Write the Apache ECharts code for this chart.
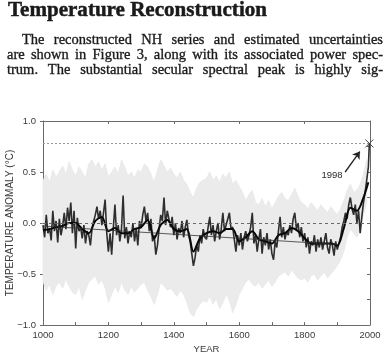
<!DOCTYPE html>
<html><head><meta charset="utf-8">
<script src="https://cdn.jsdelivr.net/npm/echarts@6/dist/echarts.min.js"></script>
<style>html,body{margin:0;padding:0;background:#fff}#c{width:386px;height:355px}</style>
</head><body><div id="c"></div>
<script>
// ---------- text ----------
const headingText = 'Temperature Reconstruction';
const paragraphLines = [
  'The reconstructed NH series and estimated uncertainties',
  'are shown in Figure 3, along with its associated power spec-',
  'trum.  The substantial secular spectral peak is highly sig-'
];
const yAxisTitle = 'TEMPERATURE ANOMALY (°C)';
const xAxisTitle = 'YEAR';
const annotationText = '1998';

// ---------- data ----------
const annualStart = 1000, annualStep = 5;
const annualValues = [
  -0.02,-0.14,0.08,-0.10,-0.05,-0.17,0.12,-0.08,0.02,-0.19,
  0.04,-0.12,-0.03,0.10,-0.06,0.15,0.02,0.20,-0.10,0.12,
  -0.25,0.05,-0.08,-0.04,-0.15,-0.02,-0.20,-0.08,-0.12,-0.22,
  -0.05,0.02,0.08,0.16,0.04,0.12,-0.02,0.10,0.23,-0.10,
  -0.28,-0.10,-0.31,-0.05,0.18,-0.12,-0.02,-0.18,-0.06,0.27,
  -0.15,-0.04,-0.20,-0.08,-0.14,0.00,-0.18,-0.06,-0.22,0.02,
  -0.05,0.08,0.16,0.02,0.10,-0.08,0.04,-0.18,-0.12,-0.31,
  -0.22,-0.06,0.08,0.02,0.25,-0.02,0.12,0.04,-0.04,0.06,
  -0.12,0.00,-0.16,-0.05,-0.10,0.02,-0.14,-0.04,0.03,-0.12,
  -0.18,-0.30,-0.42,-0.34,-0.22,-0.28,-0.12,-0.20,-0.06,-0.14,
  -0.16,-0.04,0.06,-0.12,-0.02,-0.18,-0.08,0.00,-0.16,-0.06,
  0.10,-0.08,-0.02,0.04,0.10,-0.06,-0.04,-0.16,-0.28,-0.12,
  -0.22,-0.10,-0.26,-0.14,-0.08,-0.18,-0.12,-0.04,0.10,-0.20,
  -0.12,-0.28,-0.16,-0.06,-0.30,-0.14,-0.22,-0.10,-0.26,-0.16,
  -0.30,-0.36,-0.18,-0.24,-0.08,0.06,-0.14,-0.04,-0.16,-0.08,
  -0.12,-0.02,-0.10,0.04,0.10,-0.06,0.00,-0.14,-0.04,-0.18,
  -0.10,-0.24,-0.14,-0.30,-0.18,-0.22,-0.12,-0.28,-0.16,-0.24,
  -0.14,-0.26,-0.18,-0.10,-0.24,-0.30,-0.16,-0.22,-0.32,-0.18,
  -0.26,-0.20,-0.14,-0.04,0.02,0.10,0.04,0.18,0.25,0.14,
  0.08,0.18,0.00,0.12,-0.10,0.06,0.20,0.30,0.42,0.55
];
const peakYear = 1998, peakValue = 0.78;

const smoothStart = 1000, smoothStep = 20, smoothLastYear = 1995;
const smoothValues = [
  -0.07,-0.06,-0.04,-0.03,0.00,0.00,-0.06,-0.10,0.02,0.06,
  -0.08,-0.05,-0.10,-0.10,-0.06,-0.04,0.03,-0.15,-0.02,0.03,
  -0.06,-0.08,-0.06,-0.28,-0.15,-0.10,-0.08,-0.10,-0.06,-0.06,
  -0.18,-0.14,-0.08,-0.16,-0.18,-0.20,-0.12,-0.10,-0.05,-0.08,
  -0.15,-0.20,-0.20,-0.20,-0.20,-0.22,-0.05,0.15,0.12,0.25,0.40
];

const bandStart = 1000, bandStep = 10;
const bandHigh = [
  0.42,0.48,0.40,0.52,0.45,0.50,0.56,0.48,0.60,0.52,
  0.46,0.55,0.50,0.44,0.58,0.62,0.55,0.60,0.52,0.58,
  0.45,0.50,0.55,0.48,0.62,0.55,0.46,0.50,0.44,0.52,
  0.50,0.58,0.55,0.48,0.40,0.52,0.62,0.56,0.50,0.54,
  0.48,0.44,0.50,0.42,0.38,0.30,0.25,0.34,0.40,0.42,
  0.44,0.50,0.42,0.46,0.40,0.48,0.44,0.50,0.38,0.42,
  0.36,0.30,0.22,0.28,0.32,0.20,0.18,0.24,0.16,0.22,
  0.14,0.20,0.26,0.30,0.24,0.22,0.28,0.34,0.26,0.20,
  0.18,0.14,0.20,0.16,0.12,0.18,0.14,0.10,0.16,0.12,
  0.08,0.14,0.22,0.32,0.38,0.30,0.32,0.38,0.48,0.62
];
const bandLow = [
  -0.58,-0.66,-0.60,-0.70,-0.62,-0.58,-0.64,-0.55,-0.62,-0.68,
  -0.70,-0.62,-0.75,-0.66,-0.58,-0.55,-0.52,-0.60,-0.56,-0.64,
  -0.78,-0.70,-0.62,-0.68,-0.58,-0.66,-0.70,-0.62,-0.68,-0.64,
  -0.60,-0.58,-0.66,-0.72,-0.80,-0.70,-0.58,-0.62,-0.66,-0.64,
  -0.68,-0.72,-0.66,-0.70,-0.78,-0.88,-0.92,-0.84,-0.80,-0.76,
  -0.78,-0.72,-0.80,-0.74,-0.84,-0.78,-0.70,-0.76,-0.88,-0.80,
  -0.70,-0.64,-0.58,-0.55,-0.60,-0.62,-0.58,-0.64,-0.60,-0.56,
  -0.62,-0.58,-0.52,-0.50,-0.48,-0.52,-0.46,-0.50,-0.54,-0.56,
  -0.54,-0.58,-0.52,-0.50,-0.56,-0.52,-0.48,-0.54,-0.50,-0.46,
  -0.42,-0.36,-0.28,-0.14,-0.06,-0.10,-0.14,-0.06,0.08,0.20
];

const trendYears = [1000, 1900];
const trendValues = [-0.03, -0.21];

const zeroLevel = 0.0;
const arrowFrom = [1924, 0.50];
const arrowTo = [1969, 0.70];
const annotationAt = [1884, 0.47];

const xMin = 1000, xMax = 2000, xLabelStep = 200, xTickStep = 100;
const yMin = -1, yMax = 1, yLabelStep = 0.5, yRightTickStep = 0.25;

// ---------- build series data ----------
const annualData = annualValues.map((v, i) => [annualStart + i * annualStep, v]);
annualData.push([peakYear, peakValue]);
const smoothData = smoothValues.map((v, i) => {
  const yr = (i < smoothValues.length - 1) ? smoothStart + i * smoothStep : smoothLastYear;
  return [yr, v];
});
const bandYears = bandHigh.map((_, i) => bandStart + i * bandStep);
const bandData = bandYears.map((y, i) => [y, bandLow[i], bandHigh[i]]);
const trendData = trendYears.map((y, i) => [y, trendValues[i]]);

// ---------- text layout helpers ----------
const mctx = document.createElement('canvas').getContext('2d');
function measure(t, font) { mctx.font = font; return mctx.measureText(t).width; }
const serif = '"Liberation Serif", "Times New Roman", serif';
const textColor = '#1a1a1a';

function textEl(str, x, baseline, fs, weight) {
  return {
    type: 'text', x: x, y: baseline - 0.22 * fs, silent: true,
    style: { text: str, fontSize: fs, fontFamily: serif, fontWeight: weight, fill: textColor,
             stroke: '#2a2a2a', lineWidth: weight === 'bold' ? 0.5 : 0.35,
             align: 'left', textAlign: 'left', verticalAlign: 'middle', textVerticalAlign: 'middle' }
  };
}
function justifiedLine(str, x0, x1, baseline, fs) {
  const words = str.split(/\s+/);
  const font = fs + 'px ' + serif;
  const widths = words.map(w => measure(w, font));
  const total = widths.reduce((a, b) => a + b, 0);
  const gap = (x1 - x0 - total) / (words.length - 1);
  const out = [];
  let x = x0;
  words.forEach((w, i) => { out.push(textEl(w, x, baseline, fs, 'normal')); x += widths[i] + gap; });
  return out;
}

const graphics = [];
const headW = measure(headingText, 'bold 18px ' + serif);
const headFs = 18 * (267 - 8) / headW;
graphics.push(textEl(headingText, 8, 15, headFs, 'bold'));
const natW = measure(paragraphLines[1], '13px ' + serif);
const paraFs = Math.min(14.5, 13 * (383 - 7) / natW);
const lineSpecs = [[22, 383, 43], [7, 383, 58], [7, 383, 73.5]];
paragraphLines.forEach((ln, i) => {
  graphics.push(...justifiedLine(ln, lineSpecs[i][0], lineSpecs[i][1], lineSpecs[i][2], paraFs));
});

// ---------- chart ----------
const axisColor = '#6a6a6a';
const sans = '"Liberation Sans", Arial, sans-serif';
const labelStyle = { color: '#3a3a3a', fontSize: 9.5, fontFamily: sans };
const chart = echarts.init(document.getElementById('c'), null, { renderer: 'canvas' });

chart.setOption({
  animation: false,
  backgroundColor: '#ffffff',
  graphic: graphics,
  grid: { left: 43, right: 16, top: 121, bottom: 30, containLabel: false, outerBoundsMode: 'none' },
  xAxis: [
    {
      type: 'value', min: xMin, max: xMax, interval: xTickStep, position: 'bottom',
      axisLine: { show: true, onZero: false, lineStyle: { color: axisColor, width: 1 } },
      axisTick: { show: true, length: 3, inside: true, lineStyle: { color: axisColor } },
      axisLabel: Object.assign({ margin: 5, formatter: v => (v % xLabelStep === 0 ? String(v) : ''), showMinLabel: true, showMaxLabel: true }, labelStyle),
      splitLine: { show: false },
      name: xAxisTitle, nameLocation: 'middle', nameGap: 19, nameMoveOverlap: false,
      nameTextStyle: { color: '#3a3a3a', fontSize: 9.5, fontFamily: sans }
    },
    {
      type: 'value', min: xMin, max: xMax, interval: xLabelStep, position: 'top',
      axisLine: { show: true, onZero: false, lineStyle: { color: axisColor, width: 1 } },
      axisTick: { show: true, length: 3, inside: true, lineStyle: { color: axisColor } },
      axisLabel: { show: false }, splitLine: { show: false }
    }
  ],
  yAxis: [
    {
      type: 'value', min: yMin, max: yMax, interval: yLabelStep, position: 'left',
      axisLine: { show: true, onZero: false, lineStyle: { color: axisColor, width: 1 } },
      axisTick: { show: true, length: 3, inside: false, lineStyle: { color: axisColor } },
      axisLabel: Object.assign({ margin: 7, formatter: v => (v < 0 ? '\u2212' : '') + Math.abs(v).toFixed(1) }, labelStyle),
      splitLine: { show: false },
      name: yAxisTitle, nameLocation: 'middle', nameGap: 28, nameMoveOverlap: false,
      nameTextStyle: { color: '#3a3a3a', fontSize: 10, fontFamily: sans }
    },
    {
      type: 'value', min: yMin, max: yMax, interval: yRightTickStep, position: 'right',
      axisLine: { show: true, onZero: false, lineStyle: { color: axisColor, width: 1 } },
      axisTick: { show: true, length: 3, inside: true, lineStyle: { color: axisColor } },
      axisLabel: { show: false }, splitLine: { show: false }
    }
  ],
  series: [
    {
      type: 'custom', name: 'uncertainty', xAxisIndex: 0, yAxisIndex: 0, z: 1, silent: true,
      data: bandData,
      renderItem: function (params, api) {
        if (params.dataIndex !== 0) return null;
        const top = bandYears.map((y, i) => api.coord([y, bandHigh[i]]));
        const bot = bandYears.map((y, i) => api.coord([y, bandLow[i]])).reverse();
        return { type: 'polygon', shape: { points: top.concat(bot) }, style: { fill: '#ebebeb', stroke: '#e4e4e4', lineWidth: 0.6 } };
      }
    },
    {
      type: 'line', name: 'annual', data: annualData, xAxisIndex: 0, yAxisIndex: 0, z: 3,
      showSymbol: false, lineStyle: { color: '#2e2e2e', width: 1.6 }, silent: true,
      markLine: {
        silent: true, symbol: ['none', 'none'], label: { show: false },
        data: [
          { yAxis: zeroLevel, lineStyle: { color: '#6a6a6a', type: [3, 3], width: 1 } },
          { yAxis: peakValue, lineStyle: { color: '#9a9a9a', type: [2, 2], width: 1 } },
          [
            { coord: arrowFrom, symbol: 'none', lineStyle: { color: '#222', width: 1.3, type: 'solid' } },
            { coord: arrowTo, symbol: 'arrow', symbolSize: 7 }
          ]
        ]
      },
      markPoint: {
        silent: true,
        data: [
          { coord: annotationAt, symbol: 'circle', symbolSize: 1, itemStyle: { color: 'rgba(0,0,0,0)' },
            label: { show: true, position: 'inside', formatter: annotationText, color: '#2a2a2a', fontSize: 9.5, fontFamily: sans } },
          { coord: [peakYear, peakValue], symbol: 'path://M0,0L10,10M10,0L0,10', symbolSize: 8,
            itemStyle: { color: 'none', borderColor: '#444', borderWidth: 1 }, label: { show: false } }
        ]
      }
    },
    {
      type: 'line', name: 'smoothed', data: smoothData, xAxisIndex: 0, yAxisIndex: 0, z: 4,
      showSymbol: false, smooth: 0.3, lineStyle: { color: '#080808', width: 2 }, silent: true
    },
    {
      type: 'line', name: 'trend', data: trendData, xAxisIndex: 0, yAxisIndex: 0, z: 5,
      showSymbol: false, lineStyle: { color: '#333', width: 0.8 }, silent: true
    }
  ]
});
</script>
</body></html>
